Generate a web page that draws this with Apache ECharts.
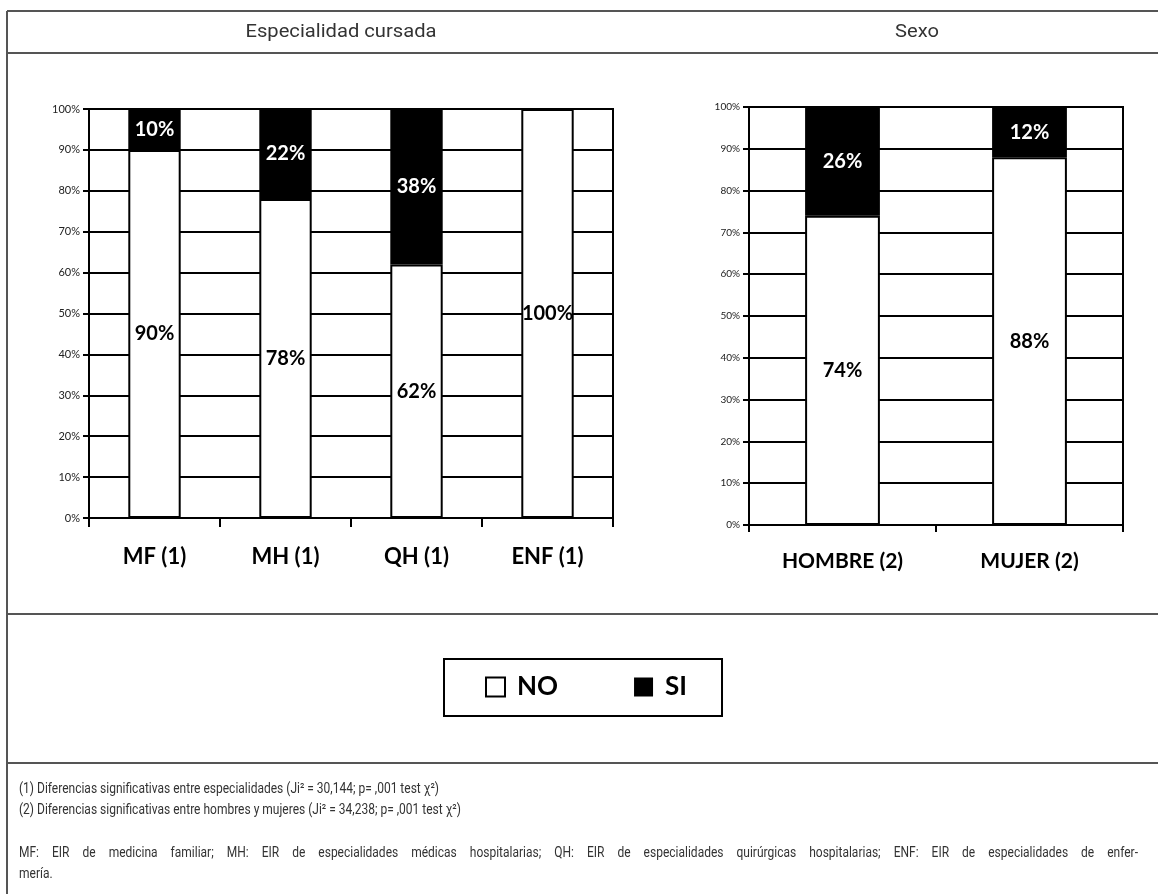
<!DOCTYPE html>
<html><head><meta charset="utf-8">
<script src="https://cdn.jsdelivr.net/npm/echarts/dist/echarts.min.js"></script>
<style>html,body{margin:0;padding:0;background:#fff}#c{width:1158px;height:894px}</style>
</head><body><div id="c"></div>
<script>
// ---- data ----
const espCategories = ['MF (1)', 'MH (1)', 'QH (1)', 'ENF (1)'];
const espNo = [90, 78, 62, 100];
const espSi = [10, 22, 38, 0];
const sexoCategories = ['HOMBRE (2)', 'MUJER (2)'];
const sexoNo = [74, 88];
const sexoSi = [26, 12];
const seriesNames = ['NO', 'SI'];
const headerLeft = 'Especialidad cursada';
const headerRight = 'Sexo';
const note1 = '(1) Diferencias significativas entre especialidades (Ji² = 30,144; p= ,001 test χ²)';
const note2 = '(2) Diferencias significativas entre hombres y mujeres (Ji² = 34,238; p= ,001 test χ²)';
const note3a = 'MF: EIR de medicina familiar; MH: EIR de especialidades médicas hospitalarias; QH: EIR de especialidades quirúrgicas hospitalarias; ENF: EIR de especialidades de enfer-';
const note3b = 'mería.';

// ---- styling ----
const chartFont = 'Lato';
const noteFont = 'Roboto';
const frameColor = '#555';
const noteColor = '#333';

const chart = echarts.init(document.getElementById('c'), null, {renderer: 'canvas'});
const mctx = document.createElement('canvas').getContext('2d');
function measure(s, fs, family) { mctx.font = fs + 'px "' + family + '"'; return mctx.measureText(s).width; }

function pct(p) { return p.value ? p.value + '%' : ''; }

function yAxisCfg(gi, fs) {
  return {
    gridIndex: gi, type: 'value', min: 0, max: 100, interval: 10,
    axisLine: {show: true, lineStyle: {color: '#000', width: 2}},
    axisTick: {show: true, length: 6, lineStyle: {color: '#000', width: 2}},
    splitLine: {show: true, lineStyle: {color: '#000', width: 2}},
    axisLabel: {formatter: '{value}%', fontFamily: chartFont, fontSize: fs, color: '#222', margin: 9}
  };
}
function xAxisCfg(gi, cats, fs, margin, tl) {
  return {
    gridIndex: gi, type: 'category', data: cats,
    axisLine: {show: true, lineStyle: {color: '#000', width: 2}},
    axisTick: {show: true, length: tl, lineStyle: {color: '#000', width: 2}},
    axisLabel: {fontFamily: chartFont, fontWeight: 'bold', fontSize: fs, color: '#000', margin: margin}
  };
}
function barSeries(name, gi, data, isSi) {
  return {
    type: 'bar', name: name, xAxisIndex: gi, yAxisIndex: gi, stack: 's' + gi,
    data: data, barWidth: '40%',
    itemStyle: isSi ? {color: '#000', borderColor: '#000', borderWidth: 2}
                    : {color: '#fff', borderColor: '#000', borderWidth: 2},
    label: {show: true, position: 'inside', formatter: pct,
            fontFamily: chartFont, fontWeight: 'bold', fontSize: 20,
            color: isSi ? '#fff' : '#000'}
  };
}

// condensed text: scale horizontally
const noteFs = 14.5;
const noteScale = 420 / measure(note1, noteFs, noteFont);
const headFs = 19;
const headScale = 191 / measure(headerLeft, headFs, noteFont);

function txt(x, y, s, fs, sx, align) {
  return {type: 'text', x: x, y: y, scaleX: sx, silent: true,
    style: {text: s, fill: noteColor, fontSize: fs, fontFamily: noteFont, textAlign: align || 'left', textVerticalAlign: 'middle'}};
}
function justifiedLine(text, x0, x1, y, fs, sx) {
  const words = text.split(' ');
  const widths = words.map(w => measure(w, fs, noteFont) * sx);
  const total = widths.reduce((a, b) => a + b, 0);
  const gap = (x1 - x0 - total) / (words.length - 1);
  const els = [];
  let x = x0;
  words.forEach((w, i) => { els.push(txt(x, y, w, fs, sx)); x += widths[i] + gap; });
  return els;
}
function hline(y) {
  return {type: 'line', silent: true, shape: {x1: 7, y1: y, x2: 1158, y2: y}, style: {stroke: frameColor, lineWidth: 2}};
}

const graphics = [
  hline(11), hline(53), hline(614), hline(763),
  {type: 'line', silent: true, shape: {x1: 7, y1: 11, x2: 7, y2: 894}, style: {stroke: frameColor, lineWidth: 2}},
  txt(341, 32, headerLeft, headFs, headScale, 'center'),
  txt(917, 32, headerRight, headFs, headScale, 'center'),
  txt(19, 789, note1, noteFs, noteScale),
  txt(19, 810, note2, noteFs, noteScale),
  ...justifiedLine(note3a, 19, 1138, 853, noteFs, noteScale),
  txt(19, 874, note3b, noteFs, noteScale)
];

chart.setOption({
  animation: false,
  backgroundColor: '#fff',
  grid: [
    {left: 89, top: 109, width: 524, height: 409, show: true, borderColor: '#000', borderWidth: 2, backgroundColor: 'transparent', containLabel: false, outerBoundsMode: 'none'},
    {left: 749, top: 107, width: 374, height: 418, show: true, borderColor: '#000', borderWidth: 2, backgroundColor: 'transparent', containLabel: false, outerBoundsMode: 'none'}
  ],
  xAxis: [xAxisCfg(0, espCategories, 22, 28, 9), xAxisCfg(1, sexoCategories, 21, 26, 7)],
  yAxis: [yAxisCfg(0, 11), yAxisCfg(1, 10)],
  legend: {
    data: [
      {name: seriesNames[0], itemStyle: {color: '#fff', borderColor: '#000', borderWidth: 2}},
      {name: seriesNames[1], itemStyle: {color: '#000', borderColor: '#000', borderWidth: 0}}
    ],
    left: 444, top: 659, orient: 'horizontal', icon: 'rect',
    itemWidth: 19, itemHeight: 19, itemGap: 76, selectedMode: false,
    borderColor: '#000', borderWidth: 2, backgroundColor: '#fff',
    padding: [15, 35, 16, 41],
    textStyle: {fontFamily: chartFont, fontWeight: 'bold', fontSize: 26, color: '#000', padding: [0, 0, 0, 7]}
  },
  series: [
    barSeries(seriesNames[0], 0, espNo, false),
    barSeries(seriesNames[1], 0, espSi, true),
    barSeries(seriesNames[0], 1, sexoNo, false),
    barSeries(seriesNames[1], 1, sexoSi, true)
  ],
  graphic: graphics
});
</script></body></html>
